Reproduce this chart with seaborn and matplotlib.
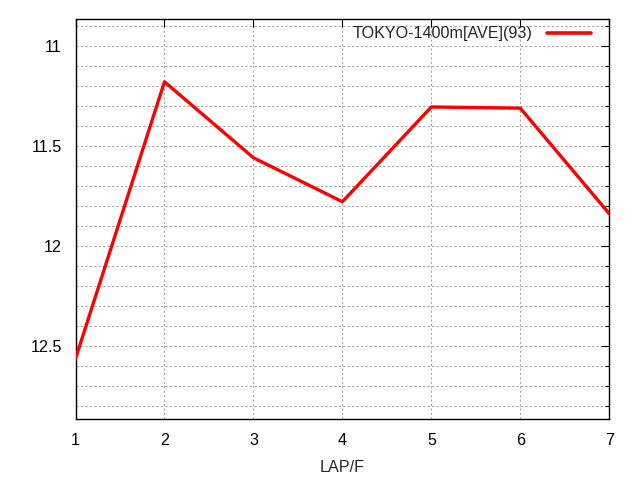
import pandas as pd
import matplotlib.pyplot as plt
import seaborn as sns
from matplotlib.ticker import MultipleLocator

laps = [1, 2, 3, 4, 5, 6, 7]
times = [12.565, 11.18, 11.56, 11.78, 11.306, 11.312, 11.84]
series_name = "TOKYO-1400m[AVE](93)"

df = pd.DataFrame({"LAP/F": laps, "time": times, "series": series_name})

sns.set_style("white")
plt.rcParams["font.family"] = ["Liberation Sans", "DejaVu Sans"]

fig = plt.figure(figsize=(6.4, 4.8), dpi=100)
ax = fig.add_axes([0.118, 0.127, 0.834, 0.833])

sns.lineplot(data=df, x="LAP/F", y="time", hue="series", palette=["#ff0000"],
             linewidth=2.4, ax=ax, zorder=3)

ax.set_xlim(1, 7)
ax.set_ylim(12.867, 10.867)
ax.xaxis.set_major_locator(MultipleLocator(1))
ax.yaxis.set_minor_locator(MultipleLocator(0.1))
ax.set_yticks([11, 11.5, 12, 12.5])
ax.set_yticklabels(["11", "11.5", "12", "12.5"])

ax.grid(True, which="both", axis="y", color="#a8a8a8", linestyle=(0, (2, 2)), linewidth=0.8)
ax.grid(True, which="major", axis="x", color="#a8a8a8", linestyle=(0, (2, 2)), linewidth=0.8)

ax.tick_params(which="both", direction="in", top=True, right=True, colors="black",
               labelsize=11.6, pad=10)
ax.tick_params(which="major", length=6, width=0.8)
ax.tick_params(which="minor", length=3, width=0.8)
for s in ax.spines.values():
    s.set_color("black")
    s.set_linewidth(1)

ax.set_xlabel("LAP/F", fontsize=11.6, labelpad=9)
ax.set_ylabel("")

leg = ax.legend(loc="upper right", bbox_to_anchor=(0.965, 0.982), frameon=False,
                markerfirst=False, fontsize=11.6, handlelength=2.7,
                handletextpad=0.9, borderpad=0, borderaxespad=0)
for line in leg.get_lines():
    line.set_linewidth(2.6)

plt.savefig("out.png", dpi=100)
